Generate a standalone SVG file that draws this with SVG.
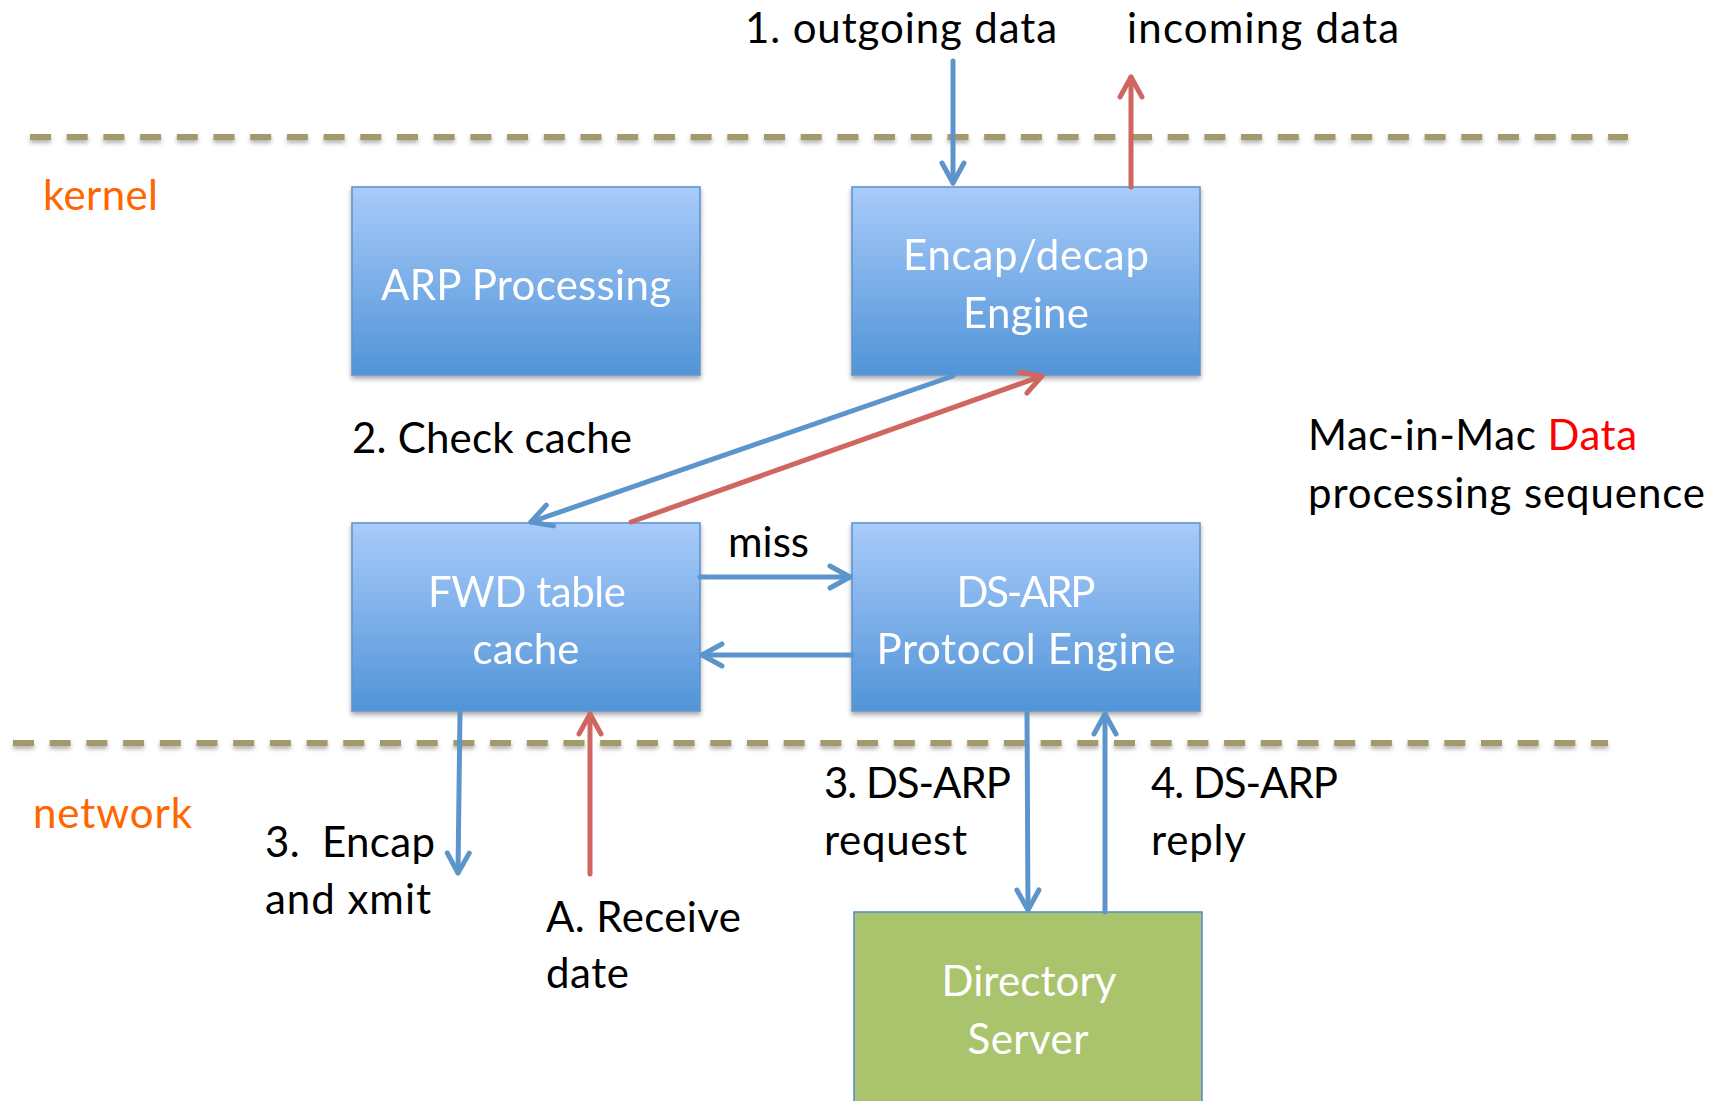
<svg xmlns="http://www.w3.org/2000/svg" width="1719" height="1101" viewBox="0 0 1719 1101">
<defs>
<style>
text{font-family:Lato,"Open Sans","Liberation Sans",sans-serif;font-size:42px}
.lbl{fill:#000}
.zone{fill:#FF6600}
.bt{fill:#fff;text-anchor:middle}
.box{fill:url(#gb);stroke:#6394D0;stroke-width:1.6}
.green{fill:#AAC46D;stroke:#5B8FCF;stroke-width:1.6}
.sep{stroke:#A39A6C;stroke-width:6;stroke-dasharray:21 15.7;fill:none}
.cb{stroke:#5B95CB;stroke-width:5;fill:none;stroke-linecap:round;marker-end:url(#mb)}
.cr{stroke:#CF6660;stroke-width:5;fill:none;stroke-linecap:round;marker-end:url(#mr)}
</style>
<linearGradient id="gb" x1="0" y1="0" x2="0" y2="1">
<stop offset="0" stop-color="#A8CBFA"/>
<stop offset="1" stop-color="#5194D8"/>
</linearGradient>
<filter id="sh" x="-5%" y="-5%" width="110%" height="120%">
<feDropShadow dx="0" dy="3" stdDeviation="2.5" flood-color="#000" flood-opacity="0.35"/>
</filter>
<filter id="shl" x="-2%" y="-200%" width="104%" height="500%">
<feDropShadow dx="0" dy="3" stdDeviation="2" flood-color="#000" flood-opacity="0.3"/>
</filter>
<marker id="mb" markerUnits="userSpaceOnUse" viewBox="-26 -16 30 32" markerWidth="30" markerHeight="32" refX="0" refY="0" orient="auto" overflow="visible">
<path d="M-20,-11 L0,0 L-20,11" fill="none" stroke="#5B95CB" stroke-width="5" stroke-linecap="round" stroke-linejoin="round"/>
</marker>
<marker id="mr" markerUnits="userSpaceOnUse" viewBox="-26 -16 30 32" markerWidth="30" markerHeight="32" refX="0" refY="0" orient="auto" overflow="visible">
<path d="M-20,-11 L0,0 L-20,11" fill="none" stroke="#CF6660" stroke-width="5" stroke-linecap="round" stroke-linejoin="round"/>
</marker>
</defs>
<rect width="1719" height="1101" fill="#fff"/>

<g id="separators" filter="url(#shl)">
<line class="sep" x1="30" y1="137" x2="1628" y2="137"/>
<line class="sep" x1="13" y1="743" x2="1608" y2="743"/>
</g>

<g id="arp" filter="url(#sh)">
<rect class="box" x="352" y="187" width="348" height="188"/>
<text class="bt" x="526" y="300" textLength="290">ARP Processing</text>
</g>
<g id="encap" filter="url(#sh)">
<rect class="box" x="852" y="187" width="348" height="188"/>
<text class="bt" x="1026" y="270" textLength="246">Encap/decap</text>
<text class="bt" x="1026" y="328" textLength="126">Engine</text>
</g>
<g id="fwd" filter="url(#sh)">
<rect class="box" x="352" y="523" width="348" height="188"/>
<text class="bt" x="527" y="607" textLength="198">FWD table</text>
<text class="bt" x="526" y="664" textLength="107">cache</text>
</g>
<g id="dsarp" filter="url(#sh)">
<rect class="box" x="852" y="523" width="348" height="188"/>
<text class="bt" x="1026" y="607" textLength="139">DS-ARP</text>
<text class="bt" x="1026" y="664" textLength="299">Protocol Engine</text>
</g>
<g id="dirserver">
<rect class="green" x="854" y="912" width="348" height="190"/>
<text class="bt" x="1029" y="996" textLength="175">Directory</text>
<text class="bt" x="1028" y="1054" textLength="121">Server</text>
</g>

<g id="connectors">
<line class="cb" x1="953" y1="61" x2="953" y2="183"/>
<line class="cr" x1="1131" y1="187" x2="1131" y2="77"/>
<line class="cb" x1="953" y1="376" x2="531" y2="522"/>
<line class="cr" x1="631" y1="522" x2="1042" y2="376"/>
<line class="cb" x1="700" y1="577" x2="850" y2="577"/>
<line class="cb" x1="852" y1="655" x2="702" y2="655"/>
<line class="cb" x1="460" y1="711" x2="458" y2="873"/>
<line class="cr" x1="590" y1="874" x2="590" y2="714"/>
<line class="cb" x1="1027" y1="711" x2="1028" y2="910"/>
<line class="cb" x1="1105" y1="912" x2="1105" y2="714"/>
</g>

<g id="labels">
<text class="lbl" x="745" y="43" textLength="312">1. outgoing data</text>
<text class="lbl" x="1127" y="43" textLength="272">incoming data</text>
<text class="zone" x="43" y="210" textLength="115">kernel</text>
<text class="lbl" x="352" y="453" textLength="280">2. Check cache</text>
<text class="lbl" x="1308" y="450" textLength="329">Mac-in-Mac <tspan fill="#FF0000">Data</tspan></text>
<text class="lbl" x="1308" y="508" textLength="397">processing sequence</text>
<text class="lbl" x="728" y="557" textLength="81">miss</text>
<text class="zone" x="33" y="828" textLength="159">network</text>
<text class="lbl" x="265" y="857" textLength="170" xml:space="preserve">3.  Encap</text>
<text class="lbl" x="265" y="914" textLength="166">and xmit</text>
<text class="lbl" x="546" y="932" textLength="195">A. Receive</text>
<text class="lbl" x="546" y="988" textLength="83">date</text>
<text class="lbl" x="824" y="798" textLength="187">3. DS-ARP</text>
<text class="lbl" x="824" y="855" textLength="143">request</text>
<text class="lbl" x="1151" y="798" textLength="187">4. DS-ARP</text>
<text class="lbl" x="1151" y="855" textLength="95">reply</text>
</g>
</svg>
